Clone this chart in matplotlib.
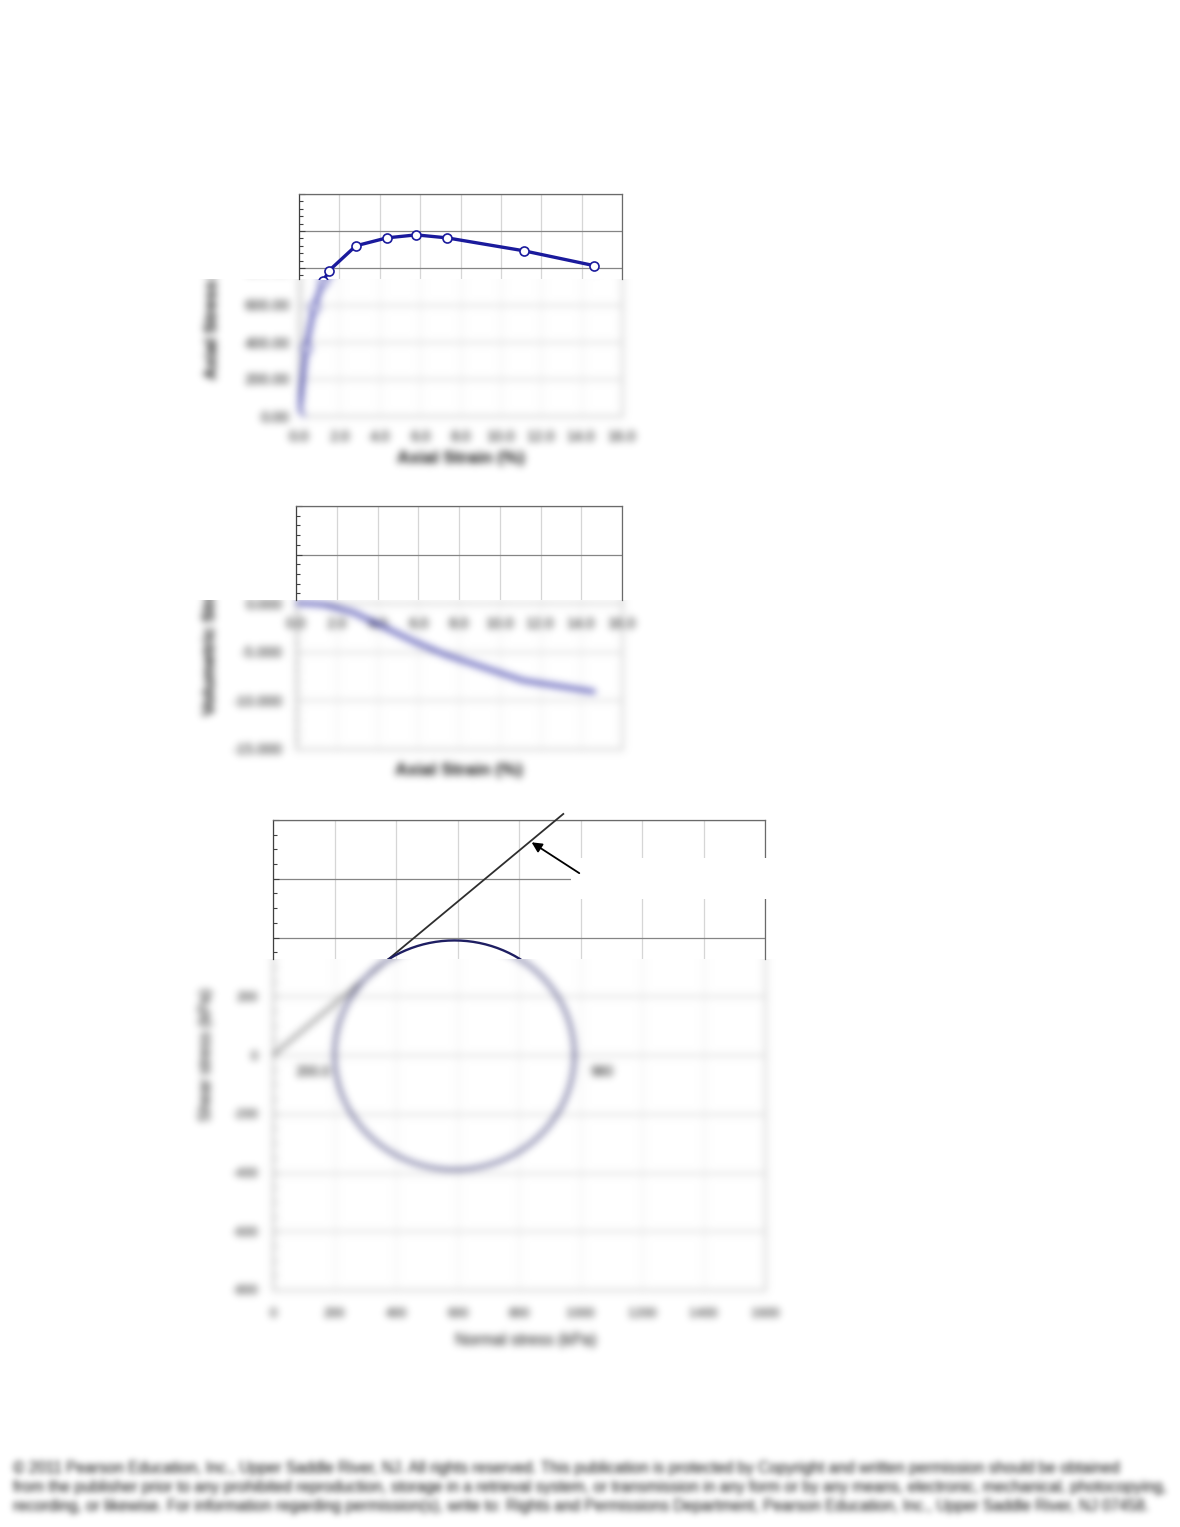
import numpy as np
import matplotlib
matplotlib.use("Agg")
import matplotlib.pyplot as plt
from matplotlib.patches import Rectangle
from matplotlib.ticker import MultipleLocator, FormatStrFormatter

plt.rcParams['font.family'] = ['Liberation Sans', 'DejaVu Sans']

# ------------------------------------------------------------------ data
strain = [0.0, 0.35, 0.75, 1.2, 1.49, 2.82, 4.36, 5.80, 7.33, 11.14, 14.61]
axial_stress = [0, 370, 590, 730, 786, 920, 963, 979, 963, 893, 813]
vol_strain = [0.0, -0.02, -0.05, -0.12, -0.2, -0.95, -2.5, -3.95, -5.3, -7.95, -9.1]

strain_ticks = [0, 2, 4, 6, 8, 10, 12, 14, 16]
stress_ticks = [0, 200, 400, 600, 800, 1000, 1200]
vol_ticks = [-15, -10, -5, 0, 5, 10]
normal_ticks = [0, 200, 400, 600, 800, 1000, 1200, 1400, 1600]
shear_ticks = [-800, -600, -400, -200, 0, 200, 400, 600, 800]

sigma3 = 200.0          # kPa
sigma1 = 980.0          # kPa
phi_deg = 41.0          # friction angle of envelope
envelope_end = 944.0    # kPa, end of drawn envelope
circle_labels = ['200.0', '980']
arrow_head = (841, 724)
arrow_tail = (996, 619)

footer_lines = [
    "\u00a9 2011 Pearson Education, Inc., Upper Saddle River, NJ. All rights reserved. This publication is protected by Copyright and written permission should be obtained",
    "from the publisher prior to any prohibited reproduction, storage in a retrieval system, or transmission in any form or by any means, electronic, mechanical, photocopying,",
    "recording, or likewise. For information regarding permission(s), write to: Rights and Permissions Department, Pearson Education, Inc., Upper Saddle River, NJ 07458.",
]

# ------------------------------------------------------------------ helpers
W, H = 1180, 1527
fig = plt.figure(figsize=(W / 100, H / 100), dpi=100)
fig.patch.set_facecolor('white')


class GaussBlur:
    def __init__(self, sigma):
        self.sigma = sigma

    def __call__(self, im, dpi):
        s = self.sigma
        pad = int(3 * s) + 1
        im = np.pad(im, ((pad, pad), (pad, pad), (0, 0)))
        a = im[..., 3:4]
        pm = np.concatenate([im[..., :3] * a, a], axis=-1)
        k = np.exp(-0.5 * (np.arange(-pad, pad + 1) / s) ** 2)
        k /= k.sum()
        tmp = np.zeros_like(pm)
        for i, w in enumerate(k):
            tmp += w * np.roll(pm, i - pad, axis=0)
        out = np.zeros_like(pm)
        for i, w in enumerate(k):
            out += w * np.roll(tmp, i - pad, axis=1)
        a2 = out[..., 3:4]
        rgb = out[..., :3] / np.maximum(a2, 1e-6)
        res = np.concatenate([np.clip(rgb, 0, 1), np.clip(a2, 0, 1)], axis=-1)
        return res, -pad, -pad


blur = GaussBlur(3.9)


def axes_px(l, t, r, b):
    return fig.add_axes([l / W, 1 - b / H, (r - l) / W, (b - t) / H])


def cover_px(t, b, l=0, r=W, z=1):
    fig.add_artist(Rectangle((l / W, 1 - b / H), (r - l) / W, (b - t) / H,
                             transform=fig.transFigure, facecolor='white',
                             edgecolor='none', zorder=z))


NAVY = '#1a1a9c'
CRISP = dict(spine='#6a6a6a', left='#404040', hgrid='#858585', vgrid='#d6d6d6')
SOFT = dict(spine='#a8a8a8', left='#909090', hgrid='#bdbdbd', vgrid='#ebebeb')


def base_style(ax, xlim, ylim, xstep, ystep, yminor, c):
    ax.set_xlim(*xlim)
    ax.set_ylim(*ylim)
    ax.xaxis.set_major_locator(MultipleLocator(xstep))
    ax.yaxis.set_major_locator(MultipleLocator(ystep))
    ax.yaxis.set_minor_locator(MultipleLocator(yminor))
    ax.grid(axis='y', which='major', color=c['hgrid'], lw=0.9)
    ax.grid(axis='x', which='major', color=c['vgrid'], lw=0.9)
    ax.set_axisbelow(True)
    for s in ax.spines.values():
        s.set_color(c['spine'])
        s.set_linewidth(0.9)
    ax.spines['left'].set_color(c['left'])
    ax.tick_params(axis='y', which='major', direction='in', length=4, width=0.8, color=c['left'])
    ax.tick_params(axis='y', which='minor', direction='in', length=3, width=0.8, color=c['left'])
    ax.tick_params(axis='x', which='both', direction='in', length=0)


def panel(box, xlim, ylim, xstep, ystep, yminor, draw, cut_top):
    l, t, r, b, cut = box
    # blurred full chart
    axb = axes_px(l, t, r, b)
    axb.set_facecolor('none')
    base_style(axb, xlim, ylim, xstep, ystep, yminor, SOFT)
    draw(axb, False)
    axb.set_agg_filter(blur)
    axb.set_zorder(0)
    # white mask above the cut
    cover_px(cut_top, cut)
    # crisp upper part of the plot area
    ylo = ylim[0] + (ylim[1] - ylim[0]) * (b - cut) / (b - t)
    axc = axes_px(l, t, r, cut)
    axc.set_facecolor('none')
    base_style(axc, xlim, (ylo, ylim[1]), xstep, ystep, yminor, CRISP)
    axc.spines['bottom'].set_visible(False)
    axc.tick_params(labelleft=False, labelbottom=False)
    axc.set_zorder(2)
    draw(axc, True)
    return axb, axc


# ------------------------------------------------------------------ chart 1
def draw1(ax, crisp):
    ax.plot(strain, axial_stress, '-o', color=NAVY, lw=2.4, ms=6.5,
            mfc='white', mec=NAVY, mew=1.2, zorder=3)


P1 = (299, 194, 622, 416, 279)
a1, c1 = panel(P1, (strain_ticks[0], strain_ticks[-1]), (stress_ticks[0], stress_ticks[-1]),
               2, 200, 40, draw1, 0)
a1.set_xticks(strain_ticks)
a1.set_yticks(stress_ticks)
a1.xaxis.set_major_formatter(FormatStrFormatter('%.1f'))
a1.yaxis.set_major_formatter(FormatStrFormatter('%.2f'))
a1.tick_params(axis='x', labelsize=10.5, pad=10)
a1.tick_params(axis='y', labelsize=10.5, pad=7)
a1.set_xlabel('Axial Strain (%)', fontsize=12.5, fontweight='bold')
a1.set_ylabel('Axial Stress (kPa)', fontsize=12.5, fontweight='bold')
a1.xaxis.label.set_va('center')
a1.yaxis.label.set_va('center')
a1.xaxis.set_label_coords(0.5, (416 - 458.5) / (416 - 194))
a1.yaxis.set_label_coords((212 - 299) / (622 - 299), 0.5)


# ------------------------------------------------------------------ chart 2
def draw2(ax, crisp):
    ax.plot(strain, vol_strain, '-', color=NAVY, lw=2.4, zorder=3)


P2 = (296, 506, 622, 749, 600)
a2, c2 = panel(P2, (strain_ticks[0], strain_ticks[-1]), (vol_ticks[0], vol_ticks[-1]),
               2, 5, 1, draw2, 485)
a2.set_xticks(strain_ticks)
a2.set_yticks(vol_ticks)
a2.spines['bottom'].set_position(('data', 0))
a2.plot([0, 1], [0, 0], transform=a2.transAxes, color=SOFT['spine'], lw=0.9, clip_on=False)
a2.xaxis.set_major_formatter(FormatStrFormatter('%.1f'))
a2.yaxis.set_major_formatter(FormatStrFormatter('%.3f'))
a2.tick_params(axis='x', labelsize=10.5, pad=10)
a2.tick_params(axis='y', labelsize=10.5, pad=10)
a2.set_xlabel('Axial Strain (%)', fontsize=12.5, fontweight='bold')
a2.set_ylabel('Volumetric Strain (%)', fontsize=12.5, fontweight='bold')
a2.xaxis.label.set_va('center')
a2.yaxis.label.set_va('center')
a2.xaxis.set_label_coords(0.5, (749 - 770) / (749 - 506))
a2.yaxis.set_label_coords((210 - 296) / (622 - 296), 0.5)


# ------------------------------------------------------------------ chart 3
centre = (sigma1 + sigma3) / 2
radius = (sigma1 - sigma3) / 2
theta = np.linspace(0, 2 * np.pi, 241)
circ_x = centre + radius * np.cos(theta)
circ_y = radius * np.sin(theta)
env_x = np.array([0.0, envelope_end])
env_y = env_x * np.tan(np.radians(phi_deg))


def draw3(ax, crisp):
    env, = ax.plot(env_x, env_y, '-', color='#2e2e2e', lw=1.3, zorder=3)
    # the envelope runs a little past the top of the plot area
    env.set_clip_path(Rectangle((0, 0), 1, 1.2, transform=ax.transAxes))
    ax.plot(circ_x, circ_y, '-', color='#1e1e62', lw=1.7, zorder=4)


P3 = (273, 820, 765, 1290, 959)
a3, c3 = panel(P3, (normal_ticks[0], normal_ticks[-1]), (shear_ticks[0], shear_ticks[-1]),
               200, 200, 50, draw3, 790)
a3.set_xticks(normal_ticks)
a3.set_yticks(shear_ticks)
a3.xaxis.set_major_formatter(FormatStrFormatter('%d'))
a3.yaxis.set_major_formatter(FormatStrFormatter('%d'))
a3.tick_params(axis='x', labelsize=9.2, pad=13)
a3.tick_params(axis='y', labelsize=9.2, pad=11)
a3.set_xlabel('Normal stress (kPa)', fontsize=11.5)
a3.set_ylabel('Shear stress (kPa)', fontsize=11.5)
a3.xaxis.label.set_va('center')
a3.yaxis.label.set_va('center')
a3.xaxis.set_label_coords((526 - 273) / (765 - 273), (1290 - 1340) / (1290 - 820))
a3.yaxis.set_label_coords((207 - 273) / (765 - 273), 0.5)
a3.annotate(circle_labels[0], (sigma3, 0), xytext=(-4, -17), textcoords='offset pixels',
            ha='right', va='center', fontsize=10)
a3.annotate(circle_labels[1], (sigma1, 0), xytext=(16, -17), textcoords='offset pixels',
            ha='left', va='center', fontsize=10)

# white box where the annotation text sat, with the arrow drawn above it
cover_px(858, 899, l=571, r=772, z=3)
arrow_ax = fig.add_axes(c3.get_position(), sharex=c3, sharey=c3)
arrow_ax.set_axis_off()
arrow_ax.set_zorder(4)
arrow_ax.annotate('', xy=arrow_head, xytext=arrow_tail,
                  arrowprops=dict(arrowstyle='-|>', color='black', lw=1.3, mutation_scale=15,
                                  shrinkA=0, shrinkB=0),
                  annotation_clip=False)

# ------------------------------------------------------------------ footer
for i, line in enumerate(footer_lines):
    t = fig.text(13 / W, 1 - (1468 + 19.5 * i) / H, line, fontsize=11.2,
                 ha='left', va='center', color='black')
    t.set_agg_filter(GaussBlur(3.2))

fig.savefig('out.png', dpi=100, facecolor='white')
